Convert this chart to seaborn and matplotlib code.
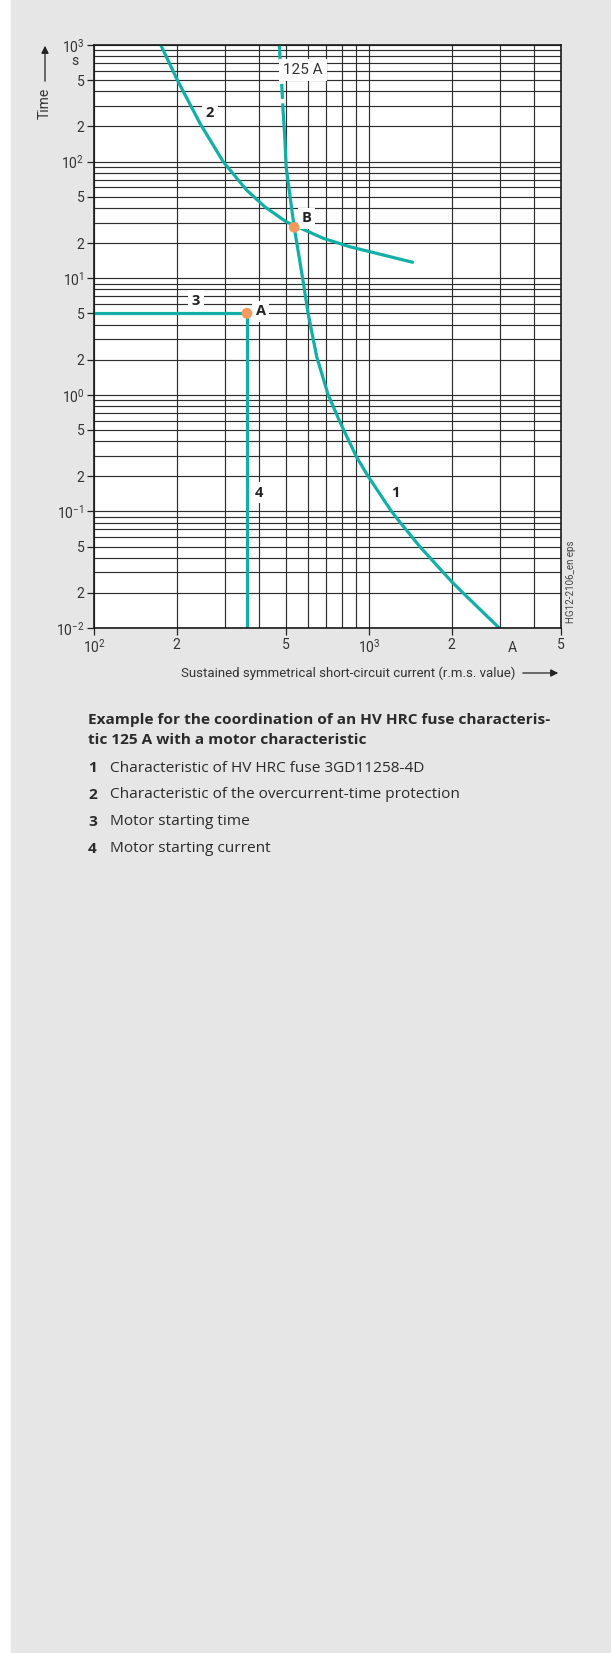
import numpy as np
import pandas as pd
import matplotlib
matplotlib.use("Agg")
import matplotlib.pyplot as plt
import seaborn as sns
from matplotlib.patches import Rectangle
from matplotlib.ticker import FixedLocator, FixedFormatter, NullFormatter

# ---- data ----
# curve 1: HV HRC fuse 125 A (dashed part at top, then solid)
fuse_dash_i = [472, 481, 487]
fuse_dash_t = [1000, 500, 283]
fuse_i = [487, 495, 500, 513, 535, 574, 601, 646, 711, 789, 901, 995, 1209, 1279, 1531, 2000, 2200, 2980]
fuse_t = [283, 153, 90, 57, 27.3, 10, 5, 2.12, 1, 0.569, 0.294, 0.199, 0.1, 0.0843, 0.05, 0.025, 0.02, 0.01]

# curve 2: overcurrent-time protection
oc_i = [175, 201, 243, 295, 359, 419, 500, 682, 853, 1442]
oc_t = [1000, 500, 213, 100, 57, 40.8, 30.5, 22, 18.6, 13.7]

# 3: motor starting time, 4: motor starting current
start_time = 5
start_current = 360
t_bottom = 0.01
i_left = 100

point_a = (360, 5)
point_b = (535, 27.3)

# tick labels
x_major = [100, 200, 500, 1000, 2000, 5000]
x_labels = [r'$\mathregular{10^2}$', '2', '5', r'$\mathregular{10^3}$', '2', '5']
x_minor = [300, 400, 600, 700, 800, 900, 3000, 4000]
y_major = [1e-2, 2e-2, 5e-2, 1e-1, 2e-1, 5e-1, 1, 2, 5, 10, 20, 50, 100, 200, 500, 1000]
y_labels = [r'$\mathregular{10^{-2}}$', '2', '5', r'$\mathregular{10^{-1}}$', '2', '5',
            r'$\mathregular{10^{0}}$', '2', '5', r'$\mathregular{10^{1}}$', '2', '5',
            r'$\mathregular{10^{2}}$', '2', '5', r'$\mathregular{10^{3}}$']
y_minor = [m * 10.0 ** e for e in range(-2, 3) for m in (3, 4, 6, 7, 8, 9)]

caption_title = ["Example for the coordination of an HV HRC fuse characteris-",
                 "tic 125 A with a motor characteristic"]
legend_nums = ["1", "2", "3", "4"]
legend_texts = ["Characteristic of HV HRC fuse 3GD11258-4D",
                "Characteristic of the overcurrent-time protection",
                "Motor starting time",
                "Motor starting current"]

teal = '#12afa6'
orange = '#f39a5c'
txt_gray = '#333333'
narrow = ['Liberation Sans Narrow', 'Roboto', 'DejaVu Sans']
body = ['Open Sans', 'DejaVu Sans']

sns.set_style('white')
plt.rcParams['font.family'] = narrow
plt.rcParams['font.weight'] = 'normal'
plt.rcParams['mathtext.default'] = 'regular'

W, H = 611, 1653
fx = lambda x: x / W
fy = lambda y: 1 - y / H

fig = plt.figure(figsize=(W / 100, H / 100), dpi=100)
fig.patch.set_facecolor('white')
fig.add_artist(Rectangle((fx(11), 0), 1 - fx(11), 1, transform=fig.transFigure,
                         color='#e6e6e6', zorder=-10))

ax = fig.add_axes([fx(94), fy(628), (561 - 94) / W, (628 - 45) / H])
ax.set_facecolor('white')
ax.set_xscale('log')
ax.set_yscale('log')
ax.set_xlim(100, 5000)
ax.set_ylim(0.01, 1000)

ax.xaxis.set_major_locator(FixedLocator(x_major))
ax.xaxis.set_major_formatter(FixedFormatter(x_labels))
ax.xaxis.set_minor_locator(FixedLocator(x_minor))
ax.xaxis.set_minor_formatter(NullFormatter())
ax.yaxis.set_major_locator(FixedLocator(y_major))
ax.yaxis.set_major_formatter(FixedFormatter(y_labels))
ax.yaxis.set_minor_locator(FixedLocator(y_minor))
ax.yaxis.set_minor_formatter(NullFormatter())

ax.tick_params(which='major', direction='out', length=5, width=0.9, color='#222',
               labelsize=10, labelcolor=txt_gray, pad=2)
ax.tick_params(which='both', left=True, bottom=True)
ax.tick_params(which='minor', length=0)
ax.grid(which='both', color='#2e2e2e', lw=0.85)
ax.set_axisbelow(True)
for s in ax.spines.values():
    s.set_color('#1a1a1a')
    s.set_linewidth(1.2)

# curves
lw = 2.3
sns.lineplot(x=fuse_dash_i, y=fuse_dash_t, ax=ax, color=teal, lw=lw,
             estimator=None, sort=False, linestyle=(0, (4.7, 1.4)))
sns.lineplot(x=fuse_i, y=fuse_t, ax=ax, color=teal, lw=lw, estimator=None, sort=False)
sns.lineplot(x=oc_i, y=oc_t, ax=ax, color=teal, lw=lw, estimator=None, sort=False)
sns.lineplot(x=[i_left, start_current], y=[start_time, start_time], ax=ax, color=teal,
             lw=lw, estimator=None, sort=False)
sns.lineplot(x=[start_current, start_current], y=[start_time, t_bottom], ax=ax, color=teal,
             lw=lw, estimator=None, sort=False)
sns.scatterplot(x=[point_a[0], point_b[0]], y=[point_a[1], point_b[1]], ax=ax,
                color=orange, s=60, edgecolor='none', zorder=5)

box = dict(facecolor='white', edgecolor='none', pad=2.5)
lab = dict(family=body, fontsize=10.5, fontweight='bold', color='#222',
           ha='center', va='center', bbox=box, zorder=4)
ax.text(264, 262, '2', **lab)
ax.text(235, 6.4, '3', **lab)
ax.text(404, 5.2, 'A', **lab)
ax.text(594, 32.7, 'B', **lab)
ax.text(1243, 0.1445, '1', **lab)
ax.text(399, 0.1445, '4', **lab)
ax.text(577, 611, '125 A', fontsize=11, color=txt_gray, ha='center', va='center',
        bbox=dict(facecolor='white', edgecolor='none', pad=3), zorder=4)

# units on the axes
ax.text(-0.032, 735, 's', transform=ax.get_yaxis_transform(), fontsize=10,
        color=txt_gray, ha='right', va='center')
ax.text(3311, -0.034, 'A', transform=ax.get_xaxis_transform(), fontsize=10,
        color=txt_gray, ha='center', va='center')

# axis titles with arrows
fig.text(fx(45), fy(103.5), 'Time', rotation=90, fontsize=10, color=txt_gray,
         ha='center', va='center')
ax.annotate('', xy=(fx(45), fy(43)), xytext=(fx(45), fy(84)), xycoords='figure fraction',
            arrowprops=dict(arrowstyle='-|>', color='#222', lw=0.9, mutation_scale=11))
fig.text(fx(515), fy(673), 'Sustained symmetrical short-circuit current (r.m.s. value)',
         fontsize=9.5, color=txt_gray, ha='right', va='center')
ax.annotate('', xy=(fx(561), fy(673)), xytext=(fx(520), fy(673)), xycoords='figure fraction',
            arrowprops=dict(arrowstyle='-|>', color='#222', lw=0.9, mutation_scale=11))
fig.text(fx(571), fy(582), 'HG12-2106_en eps', rotation=90, fontsize=7, color='#444',
         ha='center', va='center')

# caption
cap = 11.1
fig.text(fx(88), fy(720), caption_title[0], family=body, fontsize=cap, fontweight='bold',
         color='#2a2a2a', ha='left', va='center')
fig.text(fx(88), fy(740), caption_title[1], family=body, fontsize=cap, fontweight='bold',
         color='#2a2a2a', ha='left', va='center')
for k, (num, txt) in enumerate(zip(legend_nums, legend_texts)):
    yy = 768 + 27 * k
    fig.text(fx(88), fy(yy), num, family=body, fontsize=cap, fontweight='bold',
             color='#2a2a2a', ha='left', va='center')
    fig.text(fx(110), fy(yy), txt, family=body, fontsize=cap, fontweight='normal',
             color='#2a2a2a', ha='left', va='center')

fig.savefig('out.png', dpi=100, facecolor=fig.get_facecolor())
